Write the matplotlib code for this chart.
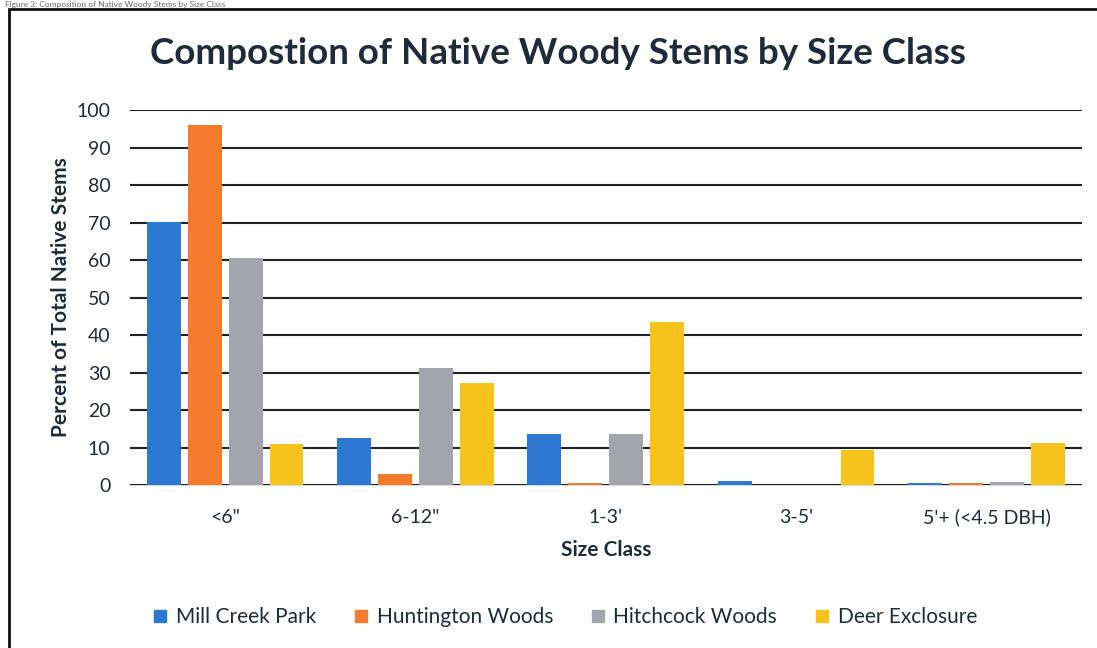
import numpy as np
import matplotlib
matplotlib.use("Agg")
import matplotlib.pyplot as plt
from matplotlib.patches import Rectangle
from matplotlib.lines import Line2D

plt.rcParams['font.family'] = ['Lato', 'DejaVu Sans']

# --- data ---
size_classes = ['<6"', '6-12"', "1-3'", "3-5'", "5'+ (<4.5 DBH)"]
mill_creek = [70.2, 12.5, 13.7, 1.2, 0.6]
huntington = [96.0, 3.0, 0.6, 0.0, 0.5]
hitchcock = [60.5, 31.3, 13.6, 0.0, 0.9]
deer_excl = [11.0, 27.1, 43.5, 9.4, 11.3]
series_names = ['Mill Creek Park', 'Huntington Woods', 'Hitchcock Woods', 'Deer Exclosure']
colors = ['#2C78D2', '#F47A2C', '#A4A4AC', '#F6C21C']

text_col = '#1F2A3A'

fig = plt.figure(figsize=(10.97, 6.48), dpi=100)
ax = fig.add_axes([0.1185, 0.2515, 0.8675, 0.5785])

x = np.arange(len(size_classes))
pitch = 0.215
width = 0.178
all_series = [mill_creek, huntington, hitchcock, deer_excl]
for i, (vals, c) in enumerate(zip(all_series, colors)):
    ax.bar(x + (i - 1.5) * pitch, vals, width, color=c, zorder=3, label=series_names[i])

ax.set_xlim(-0.5, len(size_classes) - 0.5)
ax.set_ylim(0, 100)
ax.set_yticks(range(0, 101, 10))
ax.set_xticks(x)
ax.set_xticklabels(size_classes)
ax.tick_params(axis='both', length=0, labelsize=14, colors=text_col)
ax.tick_params(axis='y', pad=14)
ax.tick_params(axis='x', pad=17)
ax.grid(axis='y', color='#222222', linewidth=1.5, zorder=0)
for s in ['top', 'right', 'left']:
    ax.spines[s].set_visible(False)
ax.spines['bottom'].set_color('#d9d9d9')
ax.spines['bottom'].set_zorder(1)

ax.set_xlabel('Size Class', fontsize=15, fontweight='bold', color=text_col, labelpad=10)
ax.set_ylabel('Percent of Total Native Stems', fontsize=15, fontweight='bold',
              color=text_col, labelpad=4)

fig.text(0.509, 0.918, 'Compostion of Native Woody Stems by Size Class', ha='center',
         va='center', fontsize=26.5, fontweight='bold', color=text_col)

handles = [Line2D([], [], marker='s', linestyle='none', markersize=9,
                  markerfacecolor=c, markeredgecolor=c) for c in colors]
fig.legend(handles, series_names, loc='center', bbox_to_anchor=(0.515, 0.048), ncol=4,
           frameon=False, fontsize=15, handlelength=0.7, handletextpad=0.4,
           columnspacing=1.8, labelcolor=text_col)

# chart frame and caption above it
fig.patches.append(Rectangle((9 / 1097, -0.1), 1.2, 1.1 - 9 / 648, transform=fig.transFigure,
                             fill=False, edgecolor='#111111', linewidth=2))
fig.text(0.005, 1 - 0.5 / 648, 'Figure 3: Composition of Native Woody Stems by Size Class',
         ha='left', va='top', fontsize=6, color='#666666')

fig.savefig('out.png', dpi=100)
